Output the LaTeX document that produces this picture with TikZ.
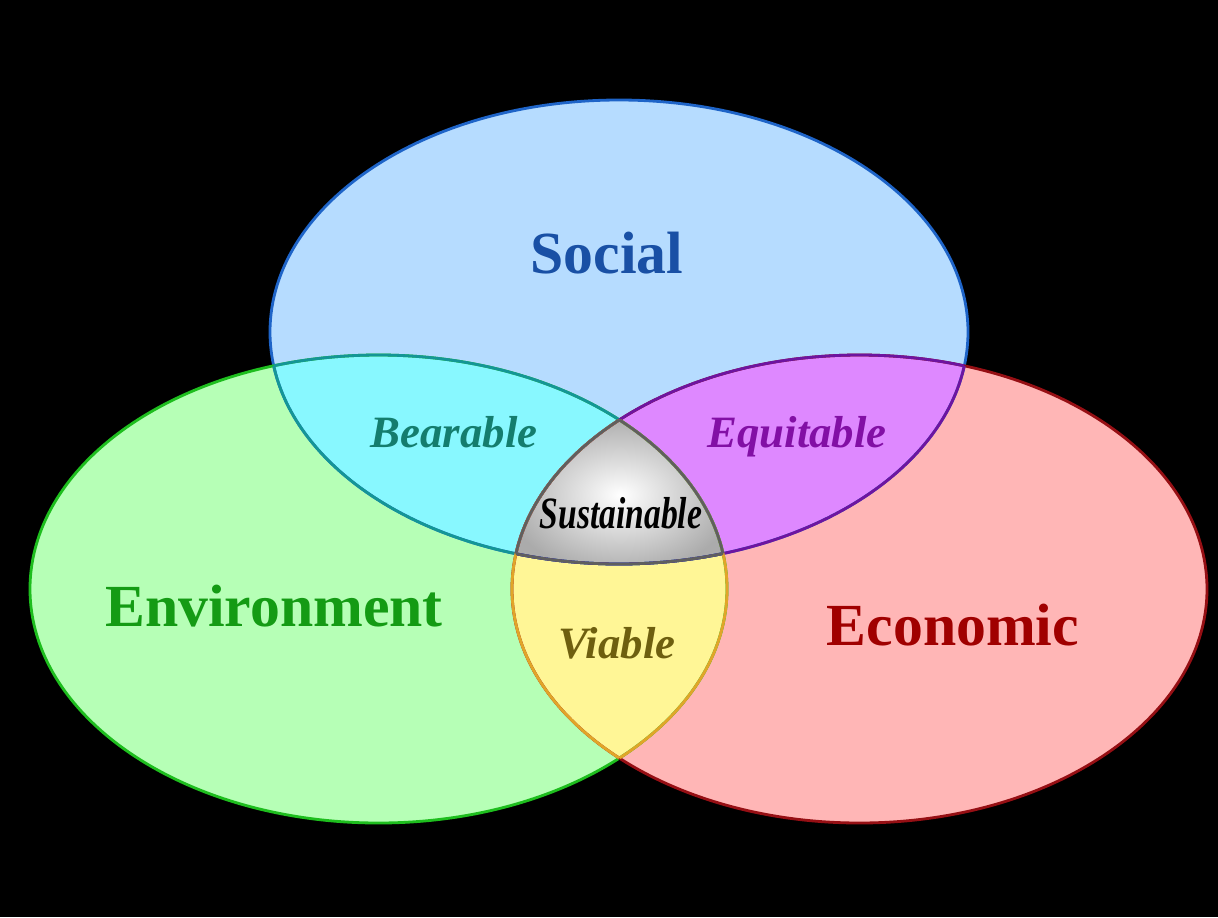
\documentclass[tikz,border=0pt]{standalone}
\usepackage{fontspec}
\setmainfont{Liberation Serif}
\begin{document}
\begin{tikzpicture}[x=0.02cm,y=-0.02cm,
  big/.style={font=\fontsize{34}{40}\selectfont\bfseries, anchor=base},
  small/.style={font=\fontsize{25.5}{30}\selectfont\bfseries\itshape, anchor=base},
  edge/.style={line width=1.6pt}]
\definecolor{socF}{RGB}{182,220,255}
\definecolor{envF}{RGB}{182,255,182}
\definecolor{ecoF}{RGB}{255,182,182}
\definecolor{bearF}{RGB}{136,248,255}
\definecolor{equiF}{RGB}{222,136,255}
\definecolor{viaF}{RGB}{255,246,150}
\definecolor{socL}{RGB}{30,100,200}
\definecolor{envL}{RGB}{30,190,30}
\definecolor{ecoL}{RGB}{150,15,20}
\definecolor{bearL}{RGB}{20,150,150}
\definecolor{equiL}{RGB}{110,20,160}
\definecolor{viaL}{RGB}{225,165,40}
\definecolor{susL}{RGB}{95,95,95}
\definecolor{socT}{RGB}{25,80,165}
\definecolor{envT}{RGB}{20,155,20}
\definecolor{ecoT}{RGB}{160,0,0}
\definecolor{bearT}{RGB}{20,125,110}
\definecolor{equiT}{RGB}{130,15,165}
\definecolor{viaT}{RGB}{110,95,15}
\def\pSoc{(619,332) ellipse [x radius=349, y radius=232]}
\def\pEnv{(378.5,589) ellipse [x radius=348.5, y radius=234]}
\def\pEco{(859.5,589) ellipse [x radius=347.5, y radius=234]}
\useasboundingbox (0,0) rectangle (1218,917);
\fill[black] (0,0) rectangle (1218,917);
% base fills
\fill[socF] \pSoc;
\fill[envF] \pEnv;
\fill[ecoF] \pEco;
% pairwise overlaps
\begin{scope}\clip \pSoc; \fill[bearF] \pEnv; \end{scope}
\begin{scope}\clip \pSoc; \fill[equiF] \pEco; \end{scope}
\begin{scope}\clip \pEnv; \fill[viaF] \pEco; \end{scope}
% triple overlap
\begin{scope}\clip \pSoc; \clip \pEnv; \clip \pEco;
  \shade[inner color=white, outer color=black!33] (505,415) rectangle (735,575);
\end{scope}
% outer outlines
\draw[edge,socL] \pSoc;
\draw[edge,envL] \pEnv;
\draw[edge,ecoL] \pEco;
% Bearable borders
\begin{scope}\clip \pEnv; \draw[edge,bearL] \pSoc; \end{scope}
\begin{scope}\clip \pSoc; \draw[edge,bearL] \pEnv; \end{scope}
% Equitable borders
\begin{scope}\clip \pEco; \draw[edge,equiL] \pSoc; \end{scope}
\begin{scope}\clip \pSoc; \draw[edge,equiL] \pEco; \end{scope}
% Viable borders
\begin{scope}\clip \pEco; \draw[edge,viaL] \pEnv; \end{scope}
\begin{scope}\clip \pEnv; \draw[edge,viaL] \pEco; \end{scope}
% Sustainable borders
\begin{scope}\clip \pEnv; \clip \pEco; \draw[edge,susL] \pSoc; \end{scope}
\begin{scope}\clip \pSoc; \clip \pEco; \draw[edge,susL] \pEnv; \end{scope}
\begin{scope}\clip \pSoc; \clip \pEnv; \draw[edge,susL] \pEco; \end{scope}
% labels
\node[big,socT] (social) at (607,273) {Social};
\node[big,envT] (env) at (274,626) {Environment};
\node[big,ecoT] (eco) at (953,645) {Economic};
\node[small,bearT] (bear) at (454,447) {Bearable};
\node[small,equiT] (equi) at (797,447) {Equitable};
\node[small,viaT] (via) at (617,658) {Viable};
\node[small,black,xscale=0.75] (sus) at (621,528) {Sustainable};
\end{tikzpicture}
\end{document}
